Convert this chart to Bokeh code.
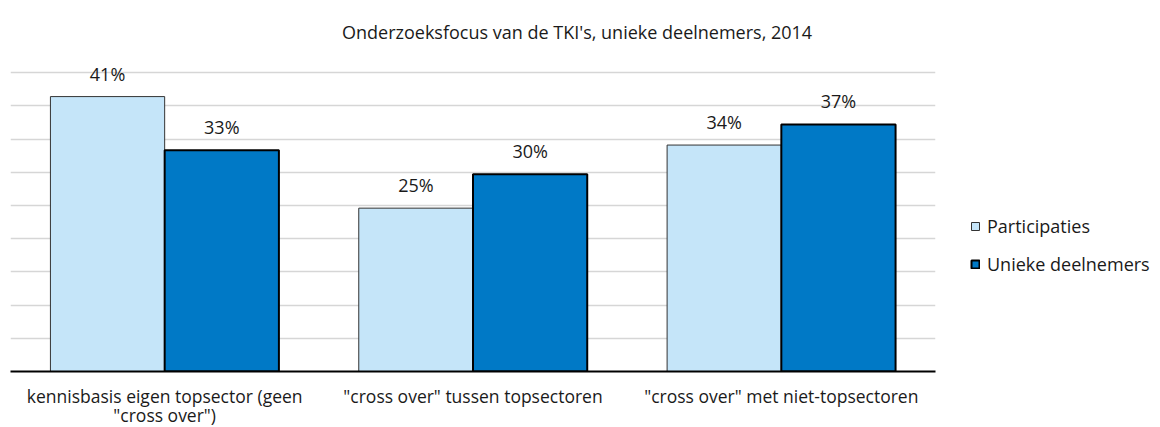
from bokeh.plotting import figure
from bokeh.models import (ColumnDataSource, FactorRange, Range1d, FixedTicker,
                          Legend, LegendItem, LabelSet)
from bokeh.transform import dodge
from bokeh.core.properties import value
from bokeh.embed import file_html
from bokeh.resources import INLINE

# ---- data ----
categories = ['kennisbasis eigen topsector (geen\n"cross over")',
              '"cross over" tussen topsectoren',
              '"cross over" met niet-topsectoren']
participaties = [41.4, 24.6, 34.1]
unieke_deelnemers = [33.3, 29.7, 37.2]
series_names = ["Participaties", "Unieke deelnemers"]
grid_ticks = [5, 10, 15, 20, 25, 30, 35, 40, 45]
title_text = "Onderzoeksfocus van de TKI's, unieke deelnemers, 2014"

FONT = "Open Sans"
TXT = "#1a1a1a"

src = ColumnDataSource(dict(
    cat=categories,
    p=participaties,
    u=unieke_deelnemers,
    lp=[f"{round(v)}%" for v in participaties],
    lu=[f"{round(v)}%" for v in unieke_deelnemers],
))

p = figure(x_range=FactorRange(*categories, range_padding=0),
           y_range=Range1d(0, 48.34),
           frame_width=925, frame_height=321,
           output_backend="svg", toolbar_location=None,
           y_axis_location=None,
           min_border_left=10, min_border_right=209,
           min_border_top=50, min_border_bottom=56)

p.outline_line_color = None
p.background_fill_color = "white"
p.border_fill_color = "white"
p.xgrid.visible = False
p.ygrid.ticker = FixedTicker(ticks=grid_ticks)
p.ygrid.grid_line_color = "#d6d6d6"
p.ygrid.grid_line_width = 1.5

BW = 0.3705
r1 = p.vbar(x=dodge('cat', -BW / 2, range=p.x_range), top='p', width=BW,
            source=src, fill_color="#C5E5F9", line_color="#333333", line_width=1)
r2 = p.vbar(x=dodge('cat', BW / 2, range=p.x_range), top='u', width=BW,
            source=src, fill_color="#0079C6", line_color="black", line_width=2)

for col, lab, off in (("p", "lp", -BW / 2), ("u", "lu", BW / 2)):
    ls = LabelSet(x=dodge('cat', off, range=p.x_range), y=col, text=lab, source=src,
                  text_align="center", text_baseline="alphabetic", y_offset=16,
                  text_font=value(FONT), text_font_size=value("18px"),
                  text_color=TXT)
    p.add_layout(ls)

ax = p.xaxis[0]
ax.axis_line_color = "black"
ax.axis_line_width = 2
ax.major_tick_line_color = None
ax.minor_tick_line_color = None
ax.major_label_text_font = FONT
ax.major_label_text_font_size = "17.5px"
ax.major_label_text_color = TXT
ax.major_label_standoff = 6
ax.major_label_text_line_height = 0.8

legend = Legend(items=[LegendItem(label=series_names[0], renderers=[r1]),
                       LegendItem(label=series_names[1], renderers=[r2])],
                location=(35, 95), glyph_width=10, glyph_height=10,
                label_standoff=7, spacing=14, label_height=24,
                padding=0, margin=0, border_line_color=None,
                background_fill_alpha=0,
                label_text_font=FONT, label_text_font_size="18px",
                label_text_color=TXT)
p.add_layout(legend, "right")

p.title.text = title_text
p.title.align = "left"
p.title.offset = 331.5
p.title.standoff = 13
p.title.text_font = FONT
p.title.text_font_size = "18px"
p.title.text_font_style = "normal"
p.title.text_color = TXT

open("out.html", "w").write(file_html(p, INLINE))
